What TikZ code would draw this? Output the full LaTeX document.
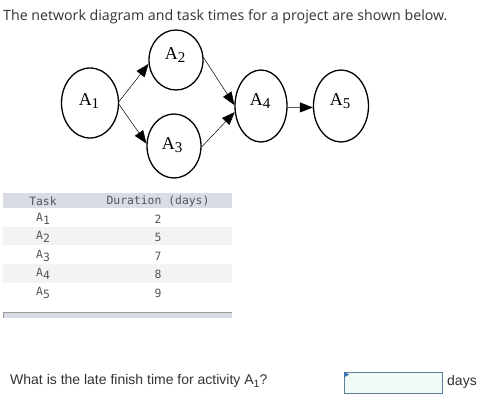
\documentclass[tikz,border=0pt]{standalone}
\usepackage{fontspec}
\setmainfont{Liberation Serif}
\newfontfamily\titlefont{Open Sans}
\newfontfamily\qfont{Liberation Sans}
\newfontfamily\monofont{DejaVu Sans Mono}
\usetikzlibrary{shapes.geometric,arrows.meta}
\definecolor{titlegray}{HTML}{333333}
\definecolor{tabgray}{HTML}{555555}
\definecolor{headbg}{HTML}{D9DCE5}
\definecolor{stripe}{HTML}{F2F3F5}
\definecolor{boxfill}{HTML}{F0FBF6}
\definecolor{boxline}{HTML}{5B7D9A}
\definecolor{tipblue}{HTML}{2E6FB7}
\tikzset{
  actnode/.style={ellipse, draw=black, line width=1.3pt, inner sep=0pt},
  actlink/.style={-{Triangle[length=13pt,width=10pt]}, line width=0.5pt},
  mono/.style={font=\monofont\fontsize{11.4}{12}\selectfont, text=tabgray, inner sep=0pt},
}
\newcommand{\actlabel}[1]{\fontsize{18}{18}\selectfont A\raisebox{-3pt}{\fontsize{15}{15}\selectfont #1}}
\begin{document}
\begin{tikzpicture}[x=1pt,y=-1pt]
\useasboundingbox (0,0) rectangle (493,419);
\fill[white] (0,0) rectangle (493,419);
% title
\node[anchor=west, inner sep=0pt, text=titlegray, font=\titlefont\fontsize{14.2}{16}\selectfont] (title) at (3,17) {The network diagram and task times for a project are shown below.};
% network
\node[actnode, minimum width=57pt, minimum height=70pt] (a1) at (90,103) {};
\node[actnode, minimum width=54pt, minimum height=60pt] (a2) at (176,60) {};
\node[actnode, minimum width=54pt, minimum height=64pt] (a3) at (174,146) {};
\node[actnode, minimum width=52pt, minimum height=72pt] (a4) at (261,106) {};
\node[actnode, minimum width=55pt, minimum height=72pt] (a5) at (341,106) {};
\node[inner sep=0pt] (l1) at (89,101) {\actlabel{1}};
\node[inner sep=0pt] (l2) at (175,55) {\actlabel{2}};
\node[inner sep=0pt] (l3) at (172,145) {\actlabel{3}};
\node[inner sep=0pt] (l4) at (260,101) {\actlabel{4}};
\node[inner sep=0pt] (l5) at (340,101) {\actlabel{5}};
\draw[actlink] (a1.3) -- (a2.188);
\draw[actlink] (a1.-3) -- (a3.175);
\draw[actlink] (a2.5) -- (a4.178);
\draw[actlink] (a3.-2) -- (a4.193);
\draw[actlink] (a4.-3) -- (a5.183);
% table
\fill[headbg] (3,193) rectangle (232,208);
\fill[stripe] (3,227) rectangle (232,245);
\fill[stripe] (3,264) rectangle (232,283);
\node[mono] (th1) at (43,201) {Task};
\node[mono] (th2) at (158,201) {Duration (days)};
\foreach \i/\d/\y in {1/2/219,2/5/237,3/7/256,4/8/274,5/9/293}{
  \node[mono] (t\i) at (43,\y) {A\raisebox{-3pt}{\i}};
  \node[mono] (d\i) at (158,\y) {\d};
}
\fill[headbg] (3,312) rectangle (232,318);
\draw[gray!80, line width=0.6pt] (3.3,318) -- (3.3,312.3) -- (232,312.3);
% question
\node[anchor=west, inner sep=0pt, text=titlegray, font=\qfont\fontsize{14}{15}\selectfont] (q) at (10,381) {What is the late finish time for activity A\raisebox{-3pt}{\fontsize{10.5}{10.5}\selectfont 1}?};
\node[draw=boxline, fill=boxfill, line width=0.8pt, minimum width=98pt, minimum height=21pt, inner sep=0pt] (ans) at (393.5,382.5) {};
\fill[tipblue] (ans.north west) ++(0.5,0.5) -- ++(4.5,2.5) -- ++(-4.5,2.5) -- cycle;
\node[anchor=west, inner sep=0pt, text=titlegray, font=\qfont\fontsize{14}{15}\selectfont] (days) at (447,382) {days};
\end{tikzpicture}
\end{document}
